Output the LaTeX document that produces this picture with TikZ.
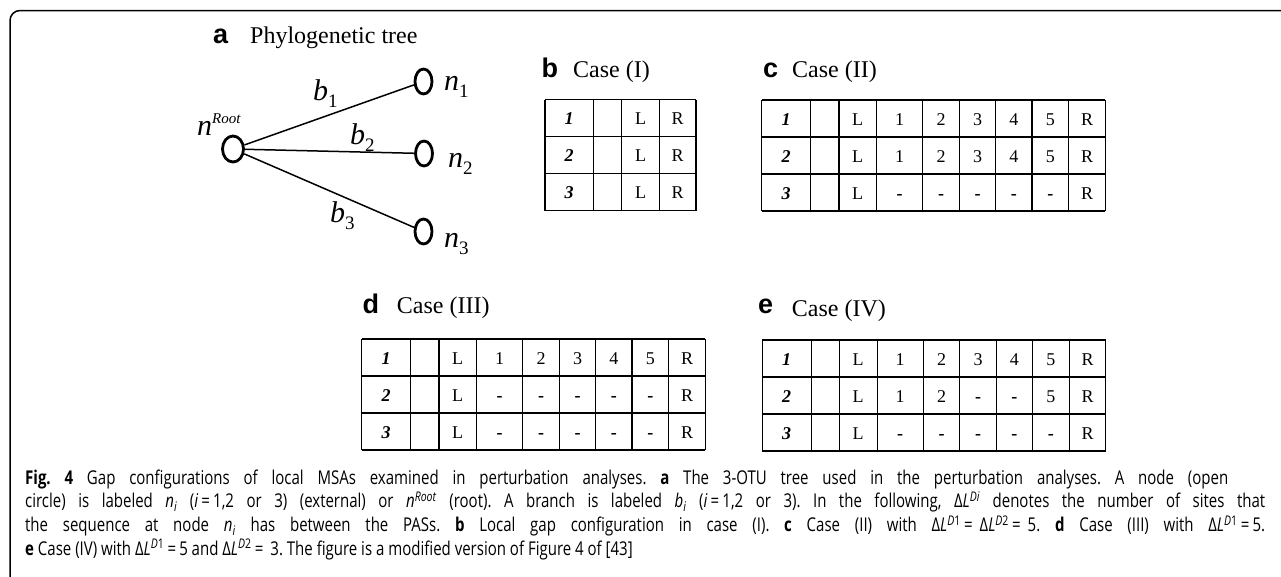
\documentclass[tikz,border=0pt]{standalone}
\usepackage{fontspec}
\setmainfont{Liberation Serif}
\newfontfamily\tagfont{Liberation Sans}
\newfontfamily\capfont[FakeStretch=0.79]{Open Sans}
\usetikzlibrary{shapes.geometric,positioning,calc}

\newcommand{\titlefont}{\fontsize{24}{28}\selectfont}
\newcommand{\lettfont}{\tagfont\bfseries\fontsize{27}{30}\selectfont}
\newcommand{\cellfont}{\fontsize{18}{20}\selectfont}
\newcommand{\treefont}{\fontsize{30}{32}\selectfont\itshape}
\newcommand{\subfont}{\fontsize{19}{20}\selectfont\upshape}
\newcommand{\gap}{\textbf{-}}

\tikzset{
  grid/.style={line width=1.3pt},
  cell/.style={anchor=base, inner sep=0pt, font=\cellfont},
  rowlab/.style={cell, font=\cellfont\bfseries\itshape},
  branch/.style={line width=1.5pt},
  otu/.style={ellipse, draw, line width=2.8pt, minimum width=17pt, minimum height=25pt, inner sep=0pt},
  treelab/.style={anchor=base west, inner sep=0pt, font=\treefont},
  panel/.style={anchor=base west, inner sep=0pt, font=\titlefont},
  tag/.style={anchor=base west, inner sep=0pt, font=\lettfont},
  capline/.style={anchor=base west, inner sep=0pt, font=\capfont\fontsize{19}{22}\selectfont\frenchspacing},
}

% one 3 x 9 table of a local MSA, rows given from L to R
\newcommand{\gaptable}[4]{%
  \foreach \x in {0,49,77.3,115,161,197.6,234,270.3,307,343.6}
    \draw[grid] (\x,0) -- (\x,111);
  \foreach \y in {0,37,74,111}
    \draw[grid] (0,\y) -- (343.6,\y);
  \foreach \r/\row in {1/{#2},2/{#3},3/{#4}} {
    \node[rowlab] (#1-\r) at (24.5,37*\r-12) {\r};
    \foreach \t [count=\c] in \row {
      \pgfmathsetmacro{\cx}{{96,138,179.3,215.8,252.2,288.7,325.3}[\c-1]}
      \node[cell] (#1-\r-\c) at (\cx,37*\r-12) {\t};
    }
  }}

\begin{document}
\begin{tikzpicture}[x=1pt, y=-1pt]
  \useasboundingbox (0,0) rectangle (1281,576);
  % frame
  \draw[line width=1.5pt, rounded corners=10pt] (1290,10.5) -- (10,10.5) -- (10,590);

  % a: the tree
  \node[tag] (ta) at (213,43) {a};
  \node[panel] (pa) at (250,43) {Phylogenetic tree};
  \node[otu, minimum width=21pt, minimum height=26pt] (root) at (233,149) {};
  \node[otu] (n1) at (423.5,81.5) {};
  \node[otu] (n2) at (424,153.5) {};
  \node[otu] (n3) at (423.5,231.5) {};
  \draw[branch] (root) -- (n1);
  \draw[branch] (root) -- (n2);
  \draw[branch] (root) -- (n3);
  \node[treelab] (lb1) at (313,100) {b\raisebox{-7pt}{\subfont 1}};
  \node[treelab] (lb2) at (350,144) {b\raisebox{-7pt}{\subfont 2}};
  \node[treelab] (lb3) at (330,222) {b\raisebox{-7pt}{\subfont 3}};
  \node[treelab] (ln1) at (444,90) {n\raisebox{-7pt}{\subfont 1}};
  \node[treelab] (ln2) at (448,167) {n\raisebox{-7pt}{\subfont 2}};
  \node[treelab] (ln3) at (444,247) {n\raisebox{-7pt}{\subfont 3}};
  \node[treelab] (lroot) at (197,135) {n\raisebox{12pt}{\fontsize{15}{16}\selectfont Root}};

  % b: case (I)
  \node[tag] (tb) at (541.5,77) {b};
  \node[panel] (pb) at (573,77) {Case (I)};
  \begin{scope}[shift={(545,99.5)}]
    \foreach \x in {0,48.3,76.7,114.3,151}
      \draw[grid] (\x,0) -- (\x,111);
    \foreach \y in {0,37,74,111}
      \draw[grid] (0,\y) -- (151,\y);
    \foreach \r in {1,2,3} {
      \node[rowlab] (b-\r) at (24,37*\r-12) {\r};
      \node[cell] (b-\r-1) at (95.5,37*\r-12) {L};
      \node[cell] (b-\r-2) at (132.7,37*\r-12) {R};
    }
  \end{scope}

  % c: case (II)
  \node[tag] (tc) at (763,77) {c};
  \node[panel] (pc) at (792,77.5) {Case (II)};
  \begin{scope}[shift={(761.7,100)}]
    \gaptable{c}{L,1,2,3,4,5,R}{L,1,2,3,4,5,R}{L,\gap,\gap,\gap,\gap,\gap,R}
  \end{scope}

  % d: case (III)
  \node[tag] (td) at (362.5,313) {d};
  \node[panel] (pd) at (396.7,313.5) {Case (III)};
  \begin{scope}[shift={(361.7,339)}]
    \gaptable{d}{L,1,2,3,4,5,R}{L,\gap,\gap,\gap,\gap,\gap,R}{L,\gap,\gap,\gap,\gap,\gap,R}
  \end{scope}

  % e: case (IV)
  \node[tag] (te) at (758,313) {e};
  \node[panel] (pe) at (791.7,316.5) {Case (IV)};
  \begin{scope}[shift={(762.2,340)}]
    \gaptable{e}{L,1,2,3,4,5,R}{L,1,2,\gap,\gap,5,R}{L,\gap,\gap,\gap,\gap,\gap,R}
  \end{scope}

  % caption
  \node[capline] (cap1) at (25,484) {\makebox[1203pt][s]{\textbf{Fig. 4} Gap configurations of local MSAs examined in perturbation analyses. \textbf{a} The 3-OTU tree used in the perturbation analyses. A node (open}};
  \node[capline] (cap2) at (25,507.7) {\makebox[1240pt][s]{circle) is labeled \textit{n}\textsubscript{\textit{i}} (\textit{i}\,=\,1,2 or 3) (external) or \textit{n}\textsuperscript{\textit{Root}} (root). A branch is labeled \textit{b}\textsubscript{\textit{i}} (\textit{i}\,=\,1,2 or 3). In the following, Δ\textit{L}\textsuperscript{\textit{Di}} denotes the number of sites that}};
  \node[capline] (cap3) at (25,531.4) {\makebox[1240pt][s]{the sequence at node \textit{n}\textsubscript{\textit{i}} has between the PASs. \textbf{b} Local gap configuration in case (I). \textbf{c} Case (II) with Δ\textit{L}\textsuperscript{\textit{D}1}\,=\hspace{7pt}Δ\textit{L}\textsuperscript{\textit{D}2}\,=\hspace{7pt}5. \textbf{d} Case (III) with Δ\textit{L}\textsuperscript{\textit{D}1}\,=\,5.}};
  \node[capline] (cap4) at (25,555) {\textbf{e} Case (IV) with Δ\textit{L}\textsuperscript{\textit{D}1}\,=\,5 and Δ\textit{L}\textsuperscript{\textit{D}2}\,=\hspace{7pt}3. The figure is a modified version of Figure 4 of [43]};
\end{tikzpicture}
\end{document}
